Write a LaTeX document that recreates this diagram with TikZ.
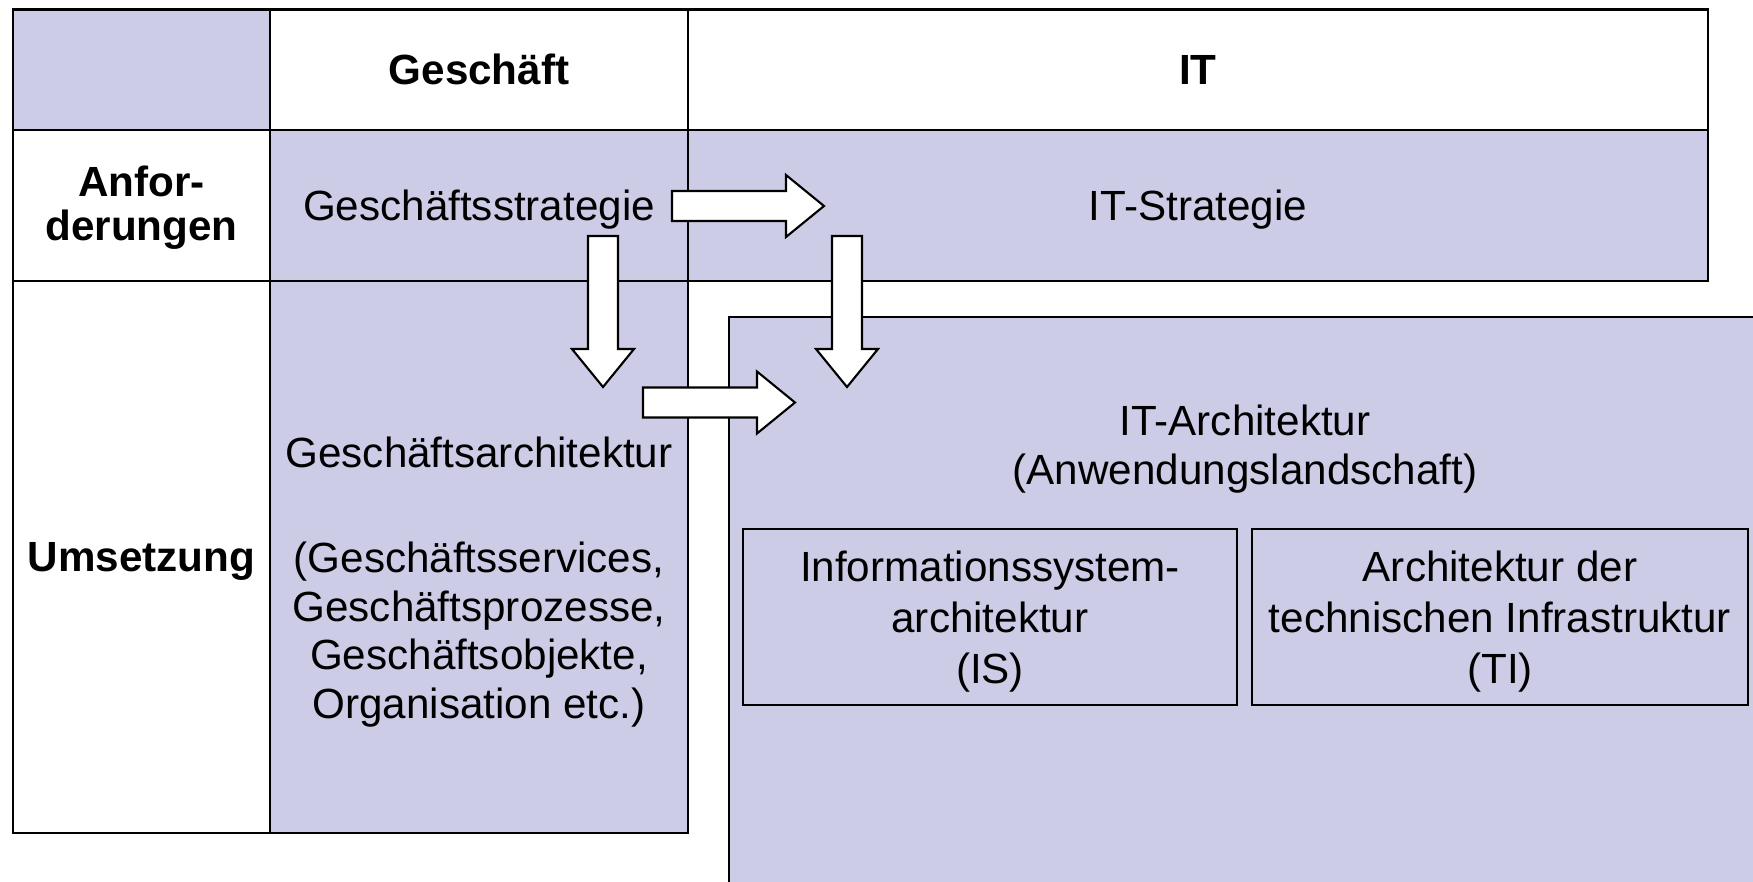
\documentclass[tikz,border=0pt]{standalone}
\usepackage{fontspec}
\setmainfont{Liberation Sans}
\usetikzlibrary{calc}
\definecolor{lavender}{RGB}{204,204,230}

\tikzset{
	cell/.style={draw=black, line width=0.6pt},
	txt/.style={font=\fontsize{12}{13.8}\selectfont, align=center, inner sep=0pt},
	boxtxt/.style={txt, font=\fontsize{12}{14.5}\selectfont},
	hdr/.style={txt, font=\fontsize{12}{12.6}\selectfont\bfseries},
	blockarr/.style={draw=black, fill=white, line width=0.6pt}
}

% block arrow from tail #1 to tip #2
\newcommand{\blockarrow}[2]{%
	\coordinate (hb) at ($(#2)!0.38cm!(#1)$);
	\draw [blockarr] ($(#1)!0.15cm!90:(#2)$) -- ($(hb)!0.15cm!-90:(#1)$)
		-- ($(hb)!0.31cm!-90:(#1)$) -- (#2) -- ($(hb)!0.31cm!90:(#1)$)
		-- ($(hb)!0.15cm!90:(#1)$) -- ($(#1)!0.15cm!-90:(#2)$) -- cycle;}

\begin{document}
\begin{tikzpicture}[x=0.01cm, y=-0.01cm]
	\useasboundingbox (0,0) rectangle (1753,881);
	\clip (0,0) rectangle (1753,881);
	\fill [white] (0,0) rectangle (1753,881);
%	\draw [help lines] (0,0) grid (1753,881);
	% table
	\draw [cell, fill=lavender] (13,9.5) rectangle (270,130);
	\draw [cell] (270,9.5) rectangle (688,130);
	\draw [cell] (688,9.5) rectangle (1708,130);
	\draw [cell] (13,130) rectangle (270,281);
	\draw [cell, fill=lavender] (270,130) rectangle (688,281);
	\draw [cell, fill=lavender] (688,130) rectangle (1708,281);
	\draw [cell] (13,281) rectangle (270,833);
	\draw [cell, fill=lavender] (270,281) rectangle (688,833);
	\draw [cell, fill=lavender] (729,317) rectangle (1800,920);
	\draw [cell] (743,529) rectangle (1237,705);
	\draw [cell] (1252,529) rectangle (1748,705);

	\node [hdr] (gesch) at (479,69.5) {Geschäft};
	\node [hdr] (it) at (1198,70) {IT};
	\node [hdr] (anf) at (141.5,208) {Anfor-\\derungen};
	\node [hdr] (ums) at (141.5,561.5) {Umsetzung};
	\node [txt] (gstrat) at (479,210) {Geschäftsstrategie};
	\node [txt] (itstrat) at (1198,210) {IT-Strategie};
	\node [txt] (garch) at (479,582) {Geschäftsarchitektur\\[0.57cm]
		(Geschäftsservices,\\Geschäftsprozesse,\\Geschäftsobjekte,\\Organisation etc.)};
	\node [txt] (itarch) at (1245,449) {IT-Architektur\\(Anwendungslandschaft)};
	\node [boxtxt] (is) at (990,622) {Informationssystem-\\architektur\\(IS)};
	\node [boxtxt] (ti) at (1500,622) {Architektur der\\technischen Infrastruktur\\(TI)};

	% arrows
	\coordinate (a1s) at (672,206);   \coordinate (a1e) at (824,206);
	\coordinate (a2s) at (603,236);   \coordinate (a2e) at (603,387);
	\coordinate (a3s) at (847,236);   \coordinate (a3e) at (847,387);
	\coordinate (a4s) at (643,402.5); \coordinate (a4e) at (795,402.5);
	\blockarrow{a1s}{a1e}
	\blockarrow{a2s}{a2e}
	\blockarrow{a3s}{a3e}
	\blockarrow{a4s}{a4e}
\end{tikzpicture}
\end{document}
